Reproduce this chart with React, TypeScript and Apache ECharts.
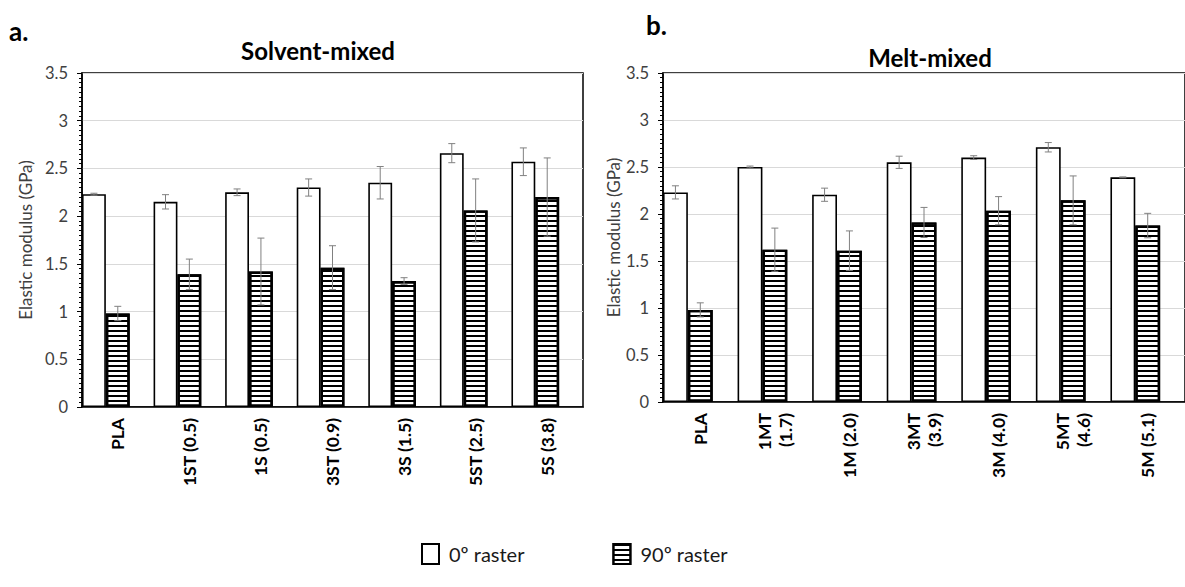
import React, { useEffect, useRef } from 'react';
import * as echarts from 'echarts';

const categoriesA = ['PLA', '1ST (0.5)', '1S (0.5)', '3ST (0.9)', '3S (1.5)', '5ST (2.5)', '5S (3.8)'];
const raster0A = [2.23, 2.15, 2.25, 2.3, 2.35, 2.66, 2.57];
const raster0ErrA = [0.01, 0.075, 0.035, 0.09, 0.17, 0.1, 0.145];
const raster90A = [0.98, 1.39, 1.42, 1.46, 1.32, 2.06, 2.2];
const raster90ErrA = [0.075, 0.16, 0.35, 0.23, 0.035, 0.33, 0.41];

const categoriesB = ['PLA', '1MT\n(1.7)', '1M (2.0)', '3MT\n(3.9)', '3M (4.0)', '5MT\n(4.6)', '5M (5.1)'];
const raster0B = [2.23, 2.5, 2.205, 2.55, 2.6, 2.71, 2.39];
const raster0ErrB = [0.07, 0.01, 0.07, 0.065, 0.02, 0.05, 0.005];
const raster90B = [0.98, 1.62, 1.61, 1.91, 2.035, 2.145, 1.877];
const raster90ErrB = [0.075, 0.23, 0.21, 0.16, 0.15, 0.26, 0.13];

const yTicks = { min: 0, max: 3.5, interval: 0.5 };

const FONT = 'Lato, "Open Sans", sans-serif';

const stripeDecal = {
  symbol: 'rect',
  symbolSize: 1,
  color: '#000',
  dashArrayX: [1, 0],
  dashArrayY: [1.8, 2.8],
  rotation: 0,
};

function errorSeries(axis: number, values: number[], errs: number[], slot: number) {
  return {
    type: 'custom',
    xAxisIndex: axis,
    yAxisIndex: axis,
    z: 10,
    silent: true,
    data: values.map((v, i) => [i, v, errs[i]]),
    encode: { x: 0, y: 1 },
    renderItem: (params: any, api: any) => {
      const i = api.value(0);
      const v = api.value(1);
      const e = api.value(2);
      const band = api.size([1, 0])[0];
      const off = (slot * band) / 3;
      const top = api.coord([i, v + e]);
      const bot = api.coord([i, v - e]);
      const x = top[0] + off;
      const cap = 3.5;
      const st = { stroke: '#808080', lineWidth: 1 };
      return {
        type: 'group',
        children: [
          { type: 'line', shape: { x1: x, y1: top[1], x2: x, y2: bot[1] }, style: st },
          { type: 'line', shape: { x1: x - cap, y1: top[1], x2: x + cap, y2: top[1] }, style: st },
          { type: 'line', shape: { x1: x - cap, y1: bot[1], x2: x + cap, y2: bot[1] }, style: st },
        ],
      };
    },
  };
}

function barSeries(axis: number, v0: number[], v90: number[]) {
  return [
    {
      type: 'bar',
      name: '0º raster',
      xAxisIndex: axis,
      yAxisIndex: axis,
      data: v0,
      barGap: '0%',
      barCategoryGap: '0%',
      itemStyle: { color: '#fff', borderColor: '#000', borderWidth: 1.6 },
    },
    {
      type: 'bar',
      name: '90º raster',
      xAxisIndex: axis,
      yAxisIndex: axis,
      data: v90,
      barGap: '0%',
      barCategoryGap: '0%',
      itemStyle: { color: '#fff', borderColor: '#000', borderWidth: 2.4, decal: stripeDecal },
    },
    {
      type: 'bar',
      name: 'spacer',
      xAxisIndex: axis,
      yAxisIndex: axis,
      data: v0.map(() => '-'),
      barGap: '0%',
      barCategoryGap: '0%',
    },
  ];
}

function xAxis(grid: number, cats: string[]) {
  return {
    type: 'category',
    gridIndex: grid,
    data: cats,
    axisLine: { lineStyle: { color: '#000', width: 1.5 } },
    axisTick: { alignWithLabel: true, length: 5, lineStyle: { color: '#000' } },
    axisLabel: {
      interval: 0,
      rotate: 90,
      margin: 11,
      fontFamily: FONT,
      fontWeight: 'bold',
      fontSize: 17.5,
      color: '#000',
      lineHeight: 21,
    },
    splitLine: { show: false },
  };
}

function yAxis(grid: number, nameGap: number) {
  return {
    type: 'value',
    gridIndex: grid,
    ...yTicks,
    name: 'Elastic modulus (GPa)',
    nameLocation: 'middle',
    nameGap,
    nameTextStyle: { fontFamily: FONT, fontSize: 17, color: '#404040' },
    axisLine: { show: true, lineStyle: { color: '#000', width: 1.5 } },
    axisTick: { show: true, length: 5, lineStyle: { color: '#000' } },
    minorTick: { show: true, splitNumber: 10, length: 3, lineStyle: { color: '#000' } },
    axisLabel: { fontFamily: FONT, fontSize: 16.5, color: '#404040', margin: 14 },
    splitLine: { lineStyle: { color: '#d9d9d9', width: 1 } },
  };
}

export default function App() {
  const ref = useRef<HTMLDivElement>(null);
  useEffect(() => {
    if (!ref.current) return;
    const chart = echarts.init(ref.current, null, { renderer: 'svg' });
    chart.setOption({
      animation: false,
      backgroundColor: '#fff',
      textStyle: { fontFamily: FONT },
      grid: [
        { left: 82, top: 73, width: 501, height: 334, show: true, borderColor: '#000', borderWidth: 1.5, backgroundColor: 'transparent' },
        { left: 663, top: 73, width: 525, height: 329, show: true, borderColor: '#000', borderWidth: 1.5, backgroundColor: 'transparent' },
      ],
      xAxis: [xAxis(0, categoriesA), xAxis(1, categoriesB)],
      yAxis: [yAxis(0, 48), yAxis(1, 41)],
      legend: {
        data: ['0º raster', '90º raster'],
        left: 416,
        top: 538,
        icon: 'rect',
        itemWidth: 17,
        itemHeight: 20,
        itemGap: 88,
        textStyle: { fontFamily: FONT, fontSize: 20, color: '#1a1a1a', padding: [0, 0, 0, 5] },
        selectedMode: false,
      },
      graphic: [
        { type: 'text', x: 9, y: 31, style: { text: 'a.', font: `bold 26px ${FONT}`, fill: '#000', verticalAlign: 'middle' } },
        { type: 'text', x: 646, y: 25, style: { text: 'b.', font: `bold 26px ${FONT}`, fill: '#000', verticalAlign: 'middle' } },
        { type: 'text', x: 318, y: 50, style: { text: 'Solvent-mixed', font: `bold 24px ${FONT}`, fill: '#000', align: 'center', verticalAlign: 'middle' } },
        { type: 'text', x: 930, y: 57, style: { text: 'Melt-mixed', font: `bold 24px ${FONT}`, fill: '#000', align: 'center', verticalAlign: 'middle' } },
      ],
      series: [
        ...barSeries(0, raster0A, raster90A),
        ...barSeries(1, raster0B, raster90B),
        errorSeries(0, raster0A, raster0ErrA, -1),
        errorSeries(0, raster90A, raster90ErrA, 0),
        errorSeries(1, raster0B, raster0ErrB, -1),
        errorSeries(1, raster90B, raster90ErrB, 0),
      ],
    });
    return () => chart.dispose();
  }, []);
  return <div ref={ref} style={{ position: 'fixed', left: 0, top: 0, width: 1185, height: 587 }} />;
}
